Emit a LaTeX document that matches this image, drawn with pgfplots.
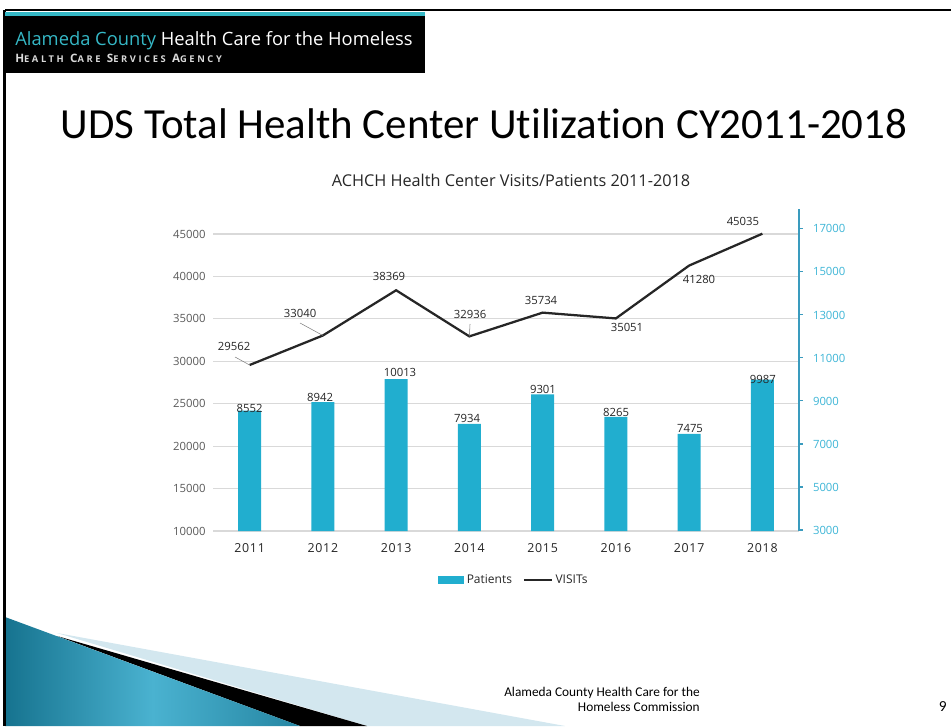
\documentclass[border=0pt]{standalone}
\usepackage{pgfplots}
\pgfplotsset{compat=1.18}
\usepackage{fontspec}
\setmainfont{Open Sans}
\newfontfamily\calibri[Ligatures=NoCommon]{Carlito}
\newfontfamily\hdrsc[LetterSpace=28]{Open Sans}
\newfontfamily\spaced[LetterSpace=6]{Open Sans}

\definecolor{barcyan}{HTML}{21AECF}
\definecolor{hdrcyan}{HTML}{35B8C6}
\definecolor{rightcyan}{HTML}{3DB5D6}
\definecolor{raxis}{HTML}{3A9BBE}
\definecolor{gridgray}{HTML}{D9D9D9}
\definecolor{ticktext}{HTML}{595959}
\definecolor{labtext}{HTML}{262626}
\definecolor{teald}{HTML}{16738F}
\definecolor{teall}{HTML}{4AB2D0}
\definecolor{paleblue}{HTML}{D3E7EF}

\pgfplotsset{
  common/.style={
    at={(159.75pt,146.25pt)}, anchor=south west,
    scale only axis, width=439.5pt, height=241.5pt,
    xmin=-0.5, xmax=7.5,
    scaled y ticks=false,
    /pgf/number format/assume math mode=true,
    /pgf/number format/1000 sep={},
    tick label style={font=\fontsize{8.5}{10}\selectfont},
  },
}
\tikzset{lab/.style={font=\fontsize{8.5}{10}\selectfont, text=labtext, inner sep=0pt}}

\begin{document}
\begin{tikzpicture}
\useasboundingbox (0,0) rectangle (713.25pt,544.5pt);

\begin{scope}[x=0.75pt,y=0.75pt]
  % slide decoration
  \fill[paleblue] (57,93) -- (565,0) -- (367,0) -- cycle;
  \fill[black] (57,90) -- (367,0) -- (300,0) -- cycle;
  \shade[left color=teald, right color=teald!70!teall, middle color=teall] (5,109) -- (300,0) -- (5,0) -- cycle;
  \draw[black, line width=1.5pt] (5,716) -- (951,716);
  \draw[black, line width=1.8pt] (4.5,716) -- (4.5,0);
  \fill[black] (5,714) rectangle (425,653);
  \fill[hdrcyan] (5,714) rectangle (425,710);
  \node[anchor=base west, inner sep=0pt, font=\fontsize{13.75}{16}\selectfont]
    at (15,680) {\textcolor{hdrcyan}{Alameda County} \textcolor{white}{Health Care for the Homeless}};
  \node[anchor=base west, inner sep=0pt, text=white!85!black, font=\hdrsc\bfseries\fontsize{8.7}{9}\selectfont]
    at (15,663) {H{\fontsize{7}{8}\selectfont EALTH} C{\fontsize{7}{8}\selectfont ARE} S{\fontsize{7}{8}\selectfont ERVICES} A{\fontsize{7}{8}\selectfont GENCY}};
  % titles
  \node[anchor=base, inner sep=0pt, font=\calibri\fontsize{32.2}{36}\selectfont]
    at (484,587) {UDS Total Health Center Utilization CY2011-2018};
  \node[anchor=base, inner sep=0pt, font=\fontsize{12.2}{14}\selectfont, text=labtext]
    at (511,539) {ACHCH Health Center Visits/Patients 2011-2018};
  % footer
  \node[anchor=base east, inner sep=0pt, font=\calibri\fontsize{10}{12}\selectfont]
    at (700,30) {Alameda County Health Care for the};
  \node[anchor=base east, inner sep=0pt, font=\calibri\fontsize{10}{12}\selectfont]
    at (700,15) {Homeless Commission};
  \node[anchor=base east, inner sep=0pt, font=\calibri\fontsize{11.5}{13}\selectfont]
    at (947,15) {9};
\end{scope}

% visits, left axis
\begin{axis}[common,
  ymin=10000, ymax=47948,
  ytick={10000,15000,...,45000},
  xtick={0,...,7}, xticklabels={2011,2012,2013,2014,2015,2016,2017,2018},
  ymajorgrids, grid style={draw=gridgray, line width=0.8pt},
  axis line style={draw=none}, major tick length=0pt,
  yticklabel style={text=ticktext, xshift=-2pt},
  xticklabel style={text=labtext, yshift=-6pt, font=\spaced\fontsize{9.3}{11}\selectfont},
]
\addplot[labtext, line width=1.7pt] coordinates {
  (0,29562) (1,33040) (2,38369) (3,32936) (4,35734) (5,35051) (6,41280) (7,45035)
};
\draw[gray, line width=0.4pt] (axis cs:-0.199,30506) -- (axis cs:0,29562);
\draw[gray, line width=0.4pt] (axis cs:0.688,34513) -- (axis cs:1,33040);
\draw[gray, line width=0.4pt] (axis cs:3.009,34395) -- (axis cs:3,32936);
\node[lab] at (axis cs:-0.213,31802) {29562};
\node[lab] at (axis cs:0.688,35691) {33040};
\node[lab] at (axis cs:1.903,40052) {38369};
\node[lab] at (axis cs:3.009,35573) {32936};
\node[lab] at (axis cs:3.978,37223) {35734};
\node[lab] at (axis cs:5.152,34041) {35051};
\node[lab] at (axis cs:6.135,39698) {41280};
\node[lab] at (axis cs:6.735,46534) {45035};
\end{axis}

% patients, right axis
\begin{axis}[common,
  ymin=2953, ymax=17927,
  axis y line*=right, axis x line=none,
  ytick={3000,5000,...,17000},
  y axis line style={draw=raxis, line width=0.8pt},
  ytick style={draw=raxis, line width=0.8pt},
  tick align=outside, major tick length=3pt,
  yticklabel style={text=rightcyan, xshift=4pt},
  ybar, bar width=17.25pt,
  legend style={at={(0.514,-0.152)}, anchor=center, draw=none, fill=none,
    legend columns=-1, font=\fontsize{9}{10}\selectfont, text=labtext,
    /tikz/every even column/.append style={column sep=6pt}},
]
\addplot[fill=barcyan, draw=none,
  legend image code/.code={\fill[barcyan] (0pt,-3pt) rectangle (19.5pt,3pt);}]
  coordinates {
  (0,8552) (1,8942) (2,10013) (3,7934) (4,9301) (5,8265) (6,7475) (7,9987)
};
\addlegendentry{Patients}
\addlegendimage{labtext, line width=1.7pt, legend image code/.code={\draw[labtext, line width=1.7pt] (0pt,0pt) -- (21pt,0pt);}}
\addlegendentry{VISITs}
\node[lab] at (axis cs:0,8673) {8552};
\node[lab] at (axis cs:0.961,9185) {8942};
\node[lab] at (axis cs:2.053,10347) {10013};
\node[lab] at (axis cs:2.968,8208) {7934};
\node[lab] at (axis cs:4.005,9557) {9301};
\node[lab] at (axis cs:5.002,8487) {8265};
\node[lab] at (axis cs:6.012,7697) {7475};
\node[lab] at (axis cs:7.008,10022) {9987};
\end{axis}
\end{tikzpicture}
\end{document}
